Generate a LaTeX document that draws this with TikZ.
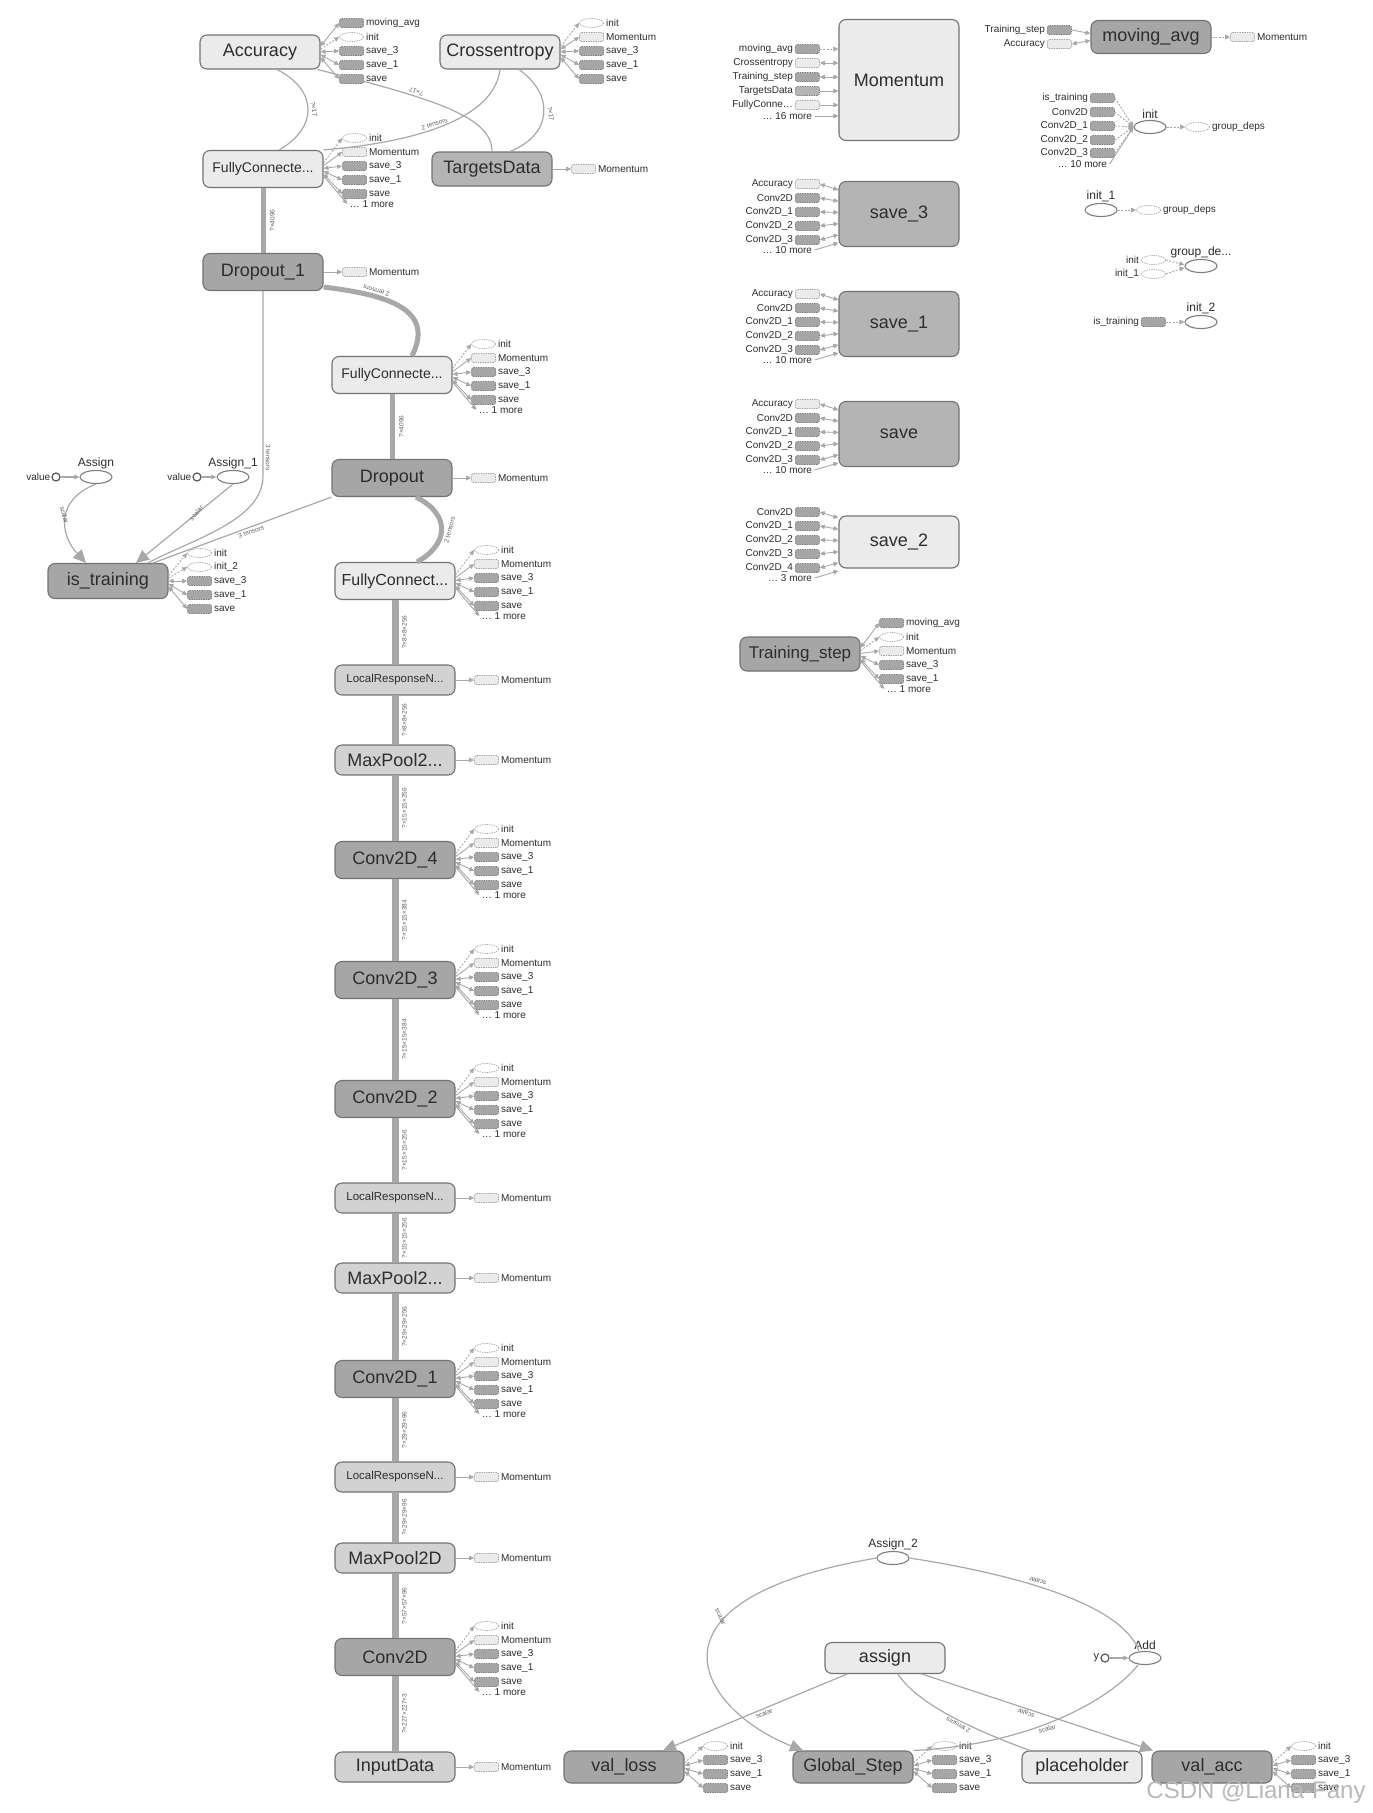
\documentclass[tikz,border=0pt]{standalone}
\usepackage{fontspec}
\setmainfont{Liberation Sans}
\usetikzlibrary{positioning,arrows.meta,shapes.geometric}
\definecolor{tbdark}{RGB}{166,166,166}
\definecolor{tbsave}{RGB}{180,180,180}
\definecolor{tbmid}{RGB}{210,210,210}
\definecolor{tblight}{RGB}{235,235,235}
\definecolor{tbborder}{RGB}{115,115,115}
\definecolor{tbedge}{RGB}{168,168,168}
\definecolor{tbicon}{RGB}{125,125,125}
\definecolor{tbtext}{RGB}{45,45,45}

% satellite nodes on the right (out) or left (in) of an op
\newcommand{\outfan}[3]{%
  \foreach \dy/\kind/\txt [count=\k] in {#3} {
    \node[\kind-icon] (#1-o\k) at ([shift={(31,\dy)}]#1.east) {};
    \node[fantext, right=1pt of #1-o\k] (#1-t\k) {\txt};
    \draw[\kind-link] ([shift={(0,{#2*(\dy)})}]#1.east) -- (#1-o\k.west);
  }%
}
\newcommand{\infan}[3]{%
  \foreach \dy/\kind/\txt [count=\k] in {#3} {
    \node[\kind-icon] (#1-i\k) at ([shift={(-31,\dy)}]#1.west) {};
    \node[fantext, left=1pt of #1-i\k] (#1-s\k) {\txt};
    \draw[\kind-link] (#1-i\k.east) -- ([shift={(0,{#2*(\dy)})}]#1.west);
  }%
}
\newcommand{\stdfan}[1]{\outfan{#1}{0.2}{-31/ell/init, -17/lt/Momentum, -3/dk/save\_3, 11/dk/save\_1, 25/dk/save, 35/more/\ldots{} 1 more}}
\newcommand{\savefan}[1]{\infan{#1}{0.8}{-30/ltb/Accuracy, -16/dk/Conv2D, -2/dk/Conv2D\_1, 12/dk/Conv2D\_2, 26/dk/Conv2D\_3, 36/morel/\ldots{} 10 more}}
\newcommand{\valfan}[1]{\outfan{#1}{0.2}{-21/ell/init, -7/dk/save\_3, 7/dk/save\_1, 21/dk/save}}

\begin{document}
\begin{tikzpicture}[x=1pt, y=-1pt,
    >={Triangle[length=5pt,width=4.5pt]},
    op/.style={draw=tbborder, line width=1.1pt, rounded corners=7pt, minimum width=120pt, minimum height=37pt, inner sep=2pt, text=tbtext, font=\fontsize{18}{21}\selectfont},
    opdark/.style={op, fill=tbdark},
    opsave/.style={op, fill=tbsave},
    opmid/.style={op, fill=tbmid, minimum height=30pt},
    oplight/.style={op, fill=tblight},
    fsize/.style={font=\fontsize{#1}{#1}\selectfont},
    oval/.style={ellipse, draw=tbicon, line width=1.1pt, fill=white, minimum width=32pt, minimum height=13pt, inner sep=0pt},
    endpt/.style={circle, draw=tbtext!80, line width=1.2pt, fill=white, minimum size=8pt, inner sep=0pt},
    every label/.style={text=tbtext, font=\fontsize{12}{14}\selectfont, inner sep=1pt},
    icon/.style={draw=tbicon, line width=0.7pt, dash pattern=on 1.4pt off 1pt, minimum width=24pt, minimum height=9pt, inner sep=0pt},
    ell-icon/.style={icon, ellipse, fill=white, draw=tbicon!70},
    lt-icon/.style={icon, rounded corners=1.5pt, fill=tblight, draw=tbicon!70},
    ltb-icon/.style={lt-icon},
    ltd-icon/.style={lt-icon},
    md-icon/.style={icon, rounded corners=1.5pt, fill=tbsave},
    dk-icon/.style={icon, rounded corners=1.5pt, fill=tbdark},
    dkd-icon/.style={dk-icon},
    dkr-icon/.style={dk-icon},
    more-icon/.style={inner sep=0pt, minimum size=0pt, xshift=-7pt},
    morel-icon/.style={inner sep=0pt, minimum size=0pt, xshift=7pt},
    fanline/.style={draw=tbedge, line width=0.9pt},
    ell-link/.style={fanline, dash pattern=on 2pt off 1.5pt, ->},
    lt-link/.style={fanline, ->},
    ltb-link/.style={fanline, <->},
    ltd-link/.style={fanline, dash pattern=on 2pt off 1.5pt, ->},
    md-link/.style={fanline, ->},
    dk-link/.style={fanline, <->},
    dkd-link/.style={fanline, dash pattern=on 2pt off 1.5pt, ->},
    dkr-link/.style={fanline, ->},
    more-link/.style={fanline, ->},
    morel-link/.style={fanline, ->},
    fantext/.style={inner sep=1pt, text=tbtext, font=\fontsize{10}{12}\selectfont},
    flow/.style={draw=tbedge, line width=1.2pt},
    flowthick/.style={draw=tbedge, line width=5pt},
    mainflow/.style={draw=tbedge, line width=7pt},
    bigtip/.style={-{Triangle[length=13pt,width=12pt]}},
    elbl/.style={text=tbtext!75, font=\fontsize{6.5}{7}\selectfont, inner sep=1pt},
    dimlbl/.style={elbl, rotate=90, anchor=north, outer sep=6pt},
    watermark/.style={text=black!28, font=\fontsize{24}{26}\selectfont}
  ]
  \path[use as bounding box, fill=white] (0,0) rectangle (1373,1813);

  % Left column, top
  \node[oplight, minimum height=34pt] (acc) at (260,52) {Accuracy};
  \node[oplight, minimum height=34pt] (cross) at (500,52) {Crossentropy};
  \node[oplight, fsize=14] (fctop) at (263,169) {FullyConnecte...};
  \node[opsave, minimum height=34pt] (targets) at (492,169) {TargetsData};
  \node[opdark] (drop1) at (263,272) {Dropout\_1};
  \node[oplight, fsize=14] (fc2) at (392,375) {FullyConnecte...};
  \node[opdark] (drop) at (392,478) {Dropout};
  \node[opdark, minimum height=35pt] (istrain) at (108,581) {is\_training};

  % Assign ops
  \node[endpt, label={[fsize=10]left:value}] (val0) at (56,477) {};
  \node[oval, label=above:Assign] (assign0) at (96,477) {};
  \node[endpt, label={[fsize=10]left:value}] (val1) at (197,477) {};
  \node[oval, label=above:Assign\_1] (assign1) at (233,477) {};

  % Main chain
  \node[oplight, fsize=16] (fc3) at (395,581) {FullyConnect...};
  \node[opmid, fsize=11.5] (lrn1) at (395,680) {LocalResponseN...};
  \node[opmid] (pool1) at (395,760) {MaxPool2...};
  \node[opdark] (conv4) at (395,860) {Conv2D\_4};
  \node[opdark] (conv3) at (395,980) {Conv2D\_3};
  \node[opdark] (conv2) at (395,1099) {Conv2D\_2};
  \node[opmid, fsize=11.5] (lrn2) at (395,1198) {LocalResponseN...};
  \node[opmid] (pool2) at (395,1278) {MaxPool2...};
  \node[opdark] (conv1) at (395,1379) {Conv2D\_1};
  \node[opmid, fsize=11.5] (lrn3) at (395,1477) {LocalResponseN...};
  \node[opmid] (pool3) at (395,1558) {MaxPool2D};
  \node[opdark] (conv0) at (395,1657) {Conv2D};
  \node[opmid] (input) at (395,1767) {InputData};

  % Right column
  \node[oplight, minimum height=121pt] (mom) at (899,80) {Momentum};
  \node[opdark, minimum height=33pt] (mavg) at (1151,37) {moving\_avg};
  \node[opsave, minimum height=65pt] (save3) at (899,214) {save\_3};
  \node[opsave, minimum height=65pt] (save1) at (899,324) {save\_1};
  \node[opsave, minimum height=65pt] (save0) at (899,434) {save};
  \node[oplight, minimum height=52pt] (save2) at (899,542) {save\_2};
  \node[opdark, fsize=17, minimum height=34pt] (tstep) at (800,654) {Training\_step};
  \node[oval, label=above:init] (init0) at (1150,127) {};
  \node[oval, label=above:init\_1] (init1) at (1101,210) {};
  \node[oval, label=above:group\_de...] (gdeps) at (1201,266) {};
  \node[oval, label=above:init\_2] (init2) at (1201,322) {};

  % Bottom group
  \node[oval, label=above:Assign\_2] (assign2) at (893,1558) {};
  \node[oplight, minimum height=31pt] (assignop) at (885,1658) {assign};
  \node[oval, label=above:Add] (add) at (1145,1658) {};
  \node[endpt, label={[fsize=11]left:y}] (yin) at (1105,1658) {};
  \node[opdark, minimum height=32pt] (valloss) at (624,1767) {val\_loss};
  \node[opdark, minimum height=32pt] (gstep) at (853,1767) {Global\_Step};
  \node[oplight, minimum height=32pt] (phold) at (1082,1767) {placeholder};
  \node[opdark, minimum height=32pt] (valacc) at (1212,1767) {val\_acc};

  % Satellites
  \outfan{acc}{0.2}{-29/dk/moving\_avg, -15/ell/init, -1/dk/save\_3, 13/dk/save\_1, 27/dk/save}
  \outfan{cross}{0.2}{-29/ell/init, -15/ltb/Momentum, -1/dk/save\_3, 13/dk/save\_1, 27/dk/save}
  \stdfan{fctop}
  \outfan{targets}{0}{0/lt/Momentum}
  \outfan{drop1}{0}{0/lt/Momentum}
  \stdfan{fc2}
  \outfan{drop}{0}{0/lt/Momentum}
  \outfan{istrain}{0.2}{-28/ell/init, -14/ell/init\_2, 0/dk/save\_3, 14/dk/save\_1, 28/dk/save}
  \stdfan{fc3}
  \outfan{lrn1}{0}{0/lt/Momentum}
  \outfan{pool1}{0}{0/lt/Momentum}
  \stdfan{conv4}
  \stdfan{conv3}
  \stdfan{conv2}
  \outfan{lrn2}{0}{0/lt/Momentum}
  \outfan{pool2}{0}{0/lt/Momentum}
  \stdfan{conv1}
  \outfan{lrn3}{0}{0/lt/Momentum}
  \outfan{pool3}{0}{0/lt/Momentum}
  \stdfan{conv0}
  \outfan{input}{0}{0/lt/Momentum}

  \infan{mom}{1}{-31/dkd/moving\_avg, -17/ltb/Crossentropy, -3/dk/Training\_step, 11/md/TargetsData, 25/lt/FullyConne\ldots, 36/morel/\ldots{} 16 more}
  \infan{mavg}{0.5}{-7/dkr/Training\_step, 7/ltb/Accuracy}
  \outfan{mavg}{0}{0/ltd/Momentum}
  \savefan{save3}
  \savefan{save1}
  \savefan{save0}
  \infan{save2}{0.8}{-30/dk/Conv2D, -16/dk/Conv2D\_1, -2/dk/Conv2D\_2, 12/dk/Conv2D\_3, 26/dk/Conv2D\_4, 36/morel/\ldots{} 3 more}
  \outfan{tstep}{0.2}{-31/dk/moving\_avg, -17/ell/init, -3/lt/Momentum, 11/dk/save\_3, 25/dk/save\_1, 35/more/\ldots{} 1 more}
  \infan{init0}{0}{-29/dkd/is\_training, -15/dkd/Conv2D, -1/dkd/Conv2D\_1, 13/dkd/Conv2D\_2, 26/dkd/Conv2D\_3, 37/morel/\ldots{} 10 more}
  \outfan{init0}{0}{0/ell/group\_deps}
  \outfan{init1}{0}{0/ell/group\_deps}
  \infan{gdeps}{0.2}{-6/ell/init, 8/ell/init\_1}
  \infan{init2}{0}{0/dkd/is\_training}

  \valfan{valloss}
  \valfan{gstep}
  \valfan{valacc}

  % Edges, top
  \draw[flow] ([xshift=17pt]acc.south) .. controls (318,90) and (318,128) .. node[elbl, xshift=6pt, rotate=-80] {?×17} ([xshift=16pt]fctop.north);
  \draw[flow] ([xshift=-3pt]acc.south east) .. controls (440,100) and (492,118) .. node[elbl, pos=0.33, yshift=5pt, rotate=158] {?×17} (targets.north);
  \draw[flow] ([xshift=19pt]cross.south) .. controls (555,95) and (552,135) .. node[elbl, xshift=7pt, rotate=-80] {?×17} ([xshift=18pt]targets.north);
  \draw[flow] (cross.south) .. controls (495,110) and (440,140) .. node[elbl, pos=0.6, yshift=5pt, rotate=17] {2 tensors} (fctop.north east);
  \draw[flowthick] (fctop) -- node[dimlbl] {?×4096} (drop1);
  \draw[flowthick] ([yshift=4pt]drop1.south east) .. controls (390,295) and (435,310) .. node[elbl, pos=0.3, yshift=6pt, rotate=165] {2 tensors} ([xshift=20pt]fc2.north);
  \draw[flow] (drop1.south) -- node[elbl, pos=0.9, xshift=5pt, rotate=-90] {3 tensors} ++(0,185) .. controls +(0,45) and (190,540) .. ([xshift=40pt]istrain.north);
  \draw[flowthick] (fc2) -- node[dimlbl] {?×4096} (drop);
  \draw[flow] (drop.south west) -- node[elbl, pos=0.45, yshift=-5pt, rotate=20] {3 tensors} ([xshift=45pt]istrain.north);
  \draw[flowthick] ([xshift=24pt]drop.south) .. controls (452,515) and (448,545) .. node[elbl, xshift=8pt, rotate=75] {2 tensors} ([xshift=22pt]fc3.north);

  % Assign edges
  \draw[flow, ->] (val0) -- (assign0);
  \draw[flow, ->] (val1) -- (assign1);
  \draw[flow, bigtip] (assign0.south) .. controls (55,500) and (60,535) .. node[elbl, pos=0.45, xshift=-2pt, rotate=-75] {scalar} ([xshift=-22pt]istrain.north);
  \draw[flow, bigtip] (assign1.south) -- node[elbl, pos=0.42, xshift=4pt, yshift=4pt, rotate=50] {scalar} ([xshift=28pt]istrain.north);

  % Main chain
  \draw[mainflow] (fc3) -- node[dimlbl] {?×8×8×256} (lrn1);
  \draw[mainflow] (lrn1) -- node[dimlbl] {?×8×8×256} (pool1);
  \draw[mainflow] (pool1) -- node[dimlbl] {?×15×15×256} (conv4);
  \draw[mainflow] (conv4) -- node[dimlbl] {?×15×15×384} (conv3);
  \draw[mainflow] (conv3) -- node[dimlbl] {?×15×15×384} (conv2);
  \draw[mainflow] (conv2) -- node[dimlbl] {?×15×15×256} (lrn2);
  \draw[mainflow] (lrn2) -- node[dimlbl] {?×15×15×256} (pool2);
  \draw[mainflow] (pool2) -- node[dimlbl] {?×29×29×256} (conv1);
  \draw[mainflow] (conv1) -- node[dimlbl] {?×29×29×96} (lrn3);
  \draw[mainflow] (lrn3) -- node[dimlbl] {?×29×29×96} (pool3);
  \draw[mainflow] (pool3) -- node[dimlbl] {?×57×57×96} (conv0);
  \draw[mainflow] (conv0) -- node[dimlbl] {?×227×227×3} (input);

  % Bottom edges
  \draw[flow, bigtip] (assign2.west) .. controls (630,1600) and (700,1710) .. node[elbl, pos=0.33, xshift=-5pt, rotate=-65] {scalar} ([xshift=-50pt]gstep.north);
  \draw[flow] (assign2.east) .. controls (1000,1572) and (1120,1600) .. node[elbl, pos=0.45, yshift=5pt, rotate=165] {scalar} ([xshift=-6pt]add.north);
  \draw[flow, bigtip] ([xshift=-38pt]assignop.south) -- node[elbl, pos=0.45, yshift=-5pt, rotate=23] {scalar} ([xshift=39pt]valloss.north);
  \draw[flow, bigtip] ([xshift=37pt]assignop.south) -- node[elbl, pos=0.45, yshift=-5pt, rotate=161] {scalar} ([xshift=-59pt]valacc.north);
  \draw[flow] ([xshift=13pt]assignop.south) .. controls (915,1700) and (960,1725) .. node[elbl, pos=0.6, yshift=-5pt, rotate=151] {2 tensors} ([xshift=-52pt]phold.north);
  \draw[flow] ([xshift=-7pt]add.south) .. controls (1110,1700) and (1030,1745) .. node[elbl, pos=0.55, yshift=-5pt, rotate=15] {scalar} (gstep.north east);
  \draw[flow, ->] (yin) -- (add);

  \node[watermark] (mark) at (1256,1792) {CSDN @Liana-Fany};
\end{tikzpicture}
\end{document}
